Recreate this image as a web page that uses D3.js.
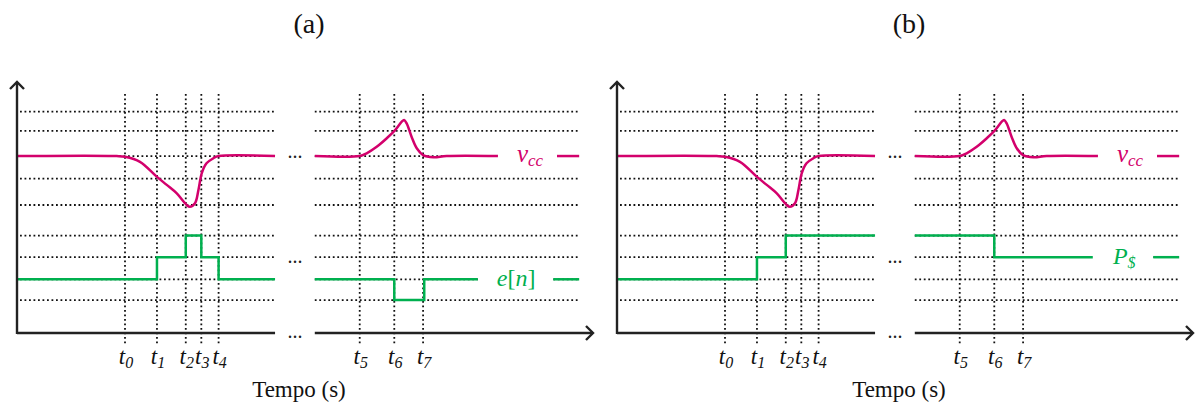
<!DOCTYPE html>
<html>
<head>
<meta charset="utf-8">
<script src="https://cdn.jsdelivr.net/npm/d3@7/dist/d3.min.js"></script>
<style>
  html, body { margin: 0; padding: 0; background: #fff; }
  svg { display: block; }
</style>
</head>
<body>
<svg id="chart" width="1197" height="405" font-family="'Liberation Serif', 'Times New Roman', Times, 'DejaVu Serif', serif"></svg>
<script>
// ---------------- data ----------------
const panelTitles = ["(a)", "(b)"];
const xAxisTitle = "Tempo (s)";
const tickNames = ["0", "1", "2", "3", "4", "5", "6", "7"];
const tickTimes = [18.75, 24.3, 29.3, 32.0, 35.0, 59.5, 65.5, 70.5];
const gridLevels = [8.82, 8.05, 7.05, 6.15, 5.10, 3.88, 3.02, 2.14, 1.31];
const segments = [[0, 44.8], [51.7, 97.6]];

const vccSeg1 = [
  [0, 7.05], [17.3, 7.05], [18.75, 7.02], [21.35, 6.82], [24.25, 6.23],
  [26.0, 5.90], [27.7, 5.57], [29.46, 5.10], [30.0, 5.03], [30.9, 5.17],
  [31.5, 5.70], [32.07, 6.36], [32.9, 6.76], [34.08, 6.96], [35.0, 7.05], [44.8, 7.05]
];
const vccSeg2 = [
  [51.7, 7.05], [59.5, 7.05], [60.7, 7.16], [62.45, 7.42], [64.2, 7.76],
  [65.6, 8.07], [66.8, 8.42], [67.2, 8.49], [67.65, 8.35], [68.5, 7.82],
  [69.4, 7.36], [70.5, 7.09], [72.3, 7.00], [74.6, 7.05], [83.5, 7.05]
];
// step series (value holds from this time on)
const enSeg1 = [[0, 2.14], [24.3, 3.02], [29.3, 3.88], [32.0, 3.02], [35.0, 2.14], [44.8, 2.14]];
const enSeg2 = [[51.7, 2.14], [65.5, 1.31], [70.7, 2.14], [80.0, 2.14]];
const psSeg1 = [[0, 2.14], [24.3, 3.02], [29.3, 3.88], [44.8, 3.88]];
const psSeg2 = [[51.7, 3.88], [65.5, 3.02], [82.6, 3.02]];

const vccLabel = { level: 7.05, lineEnd: 83.5, labelAt: 86.8, dash: [93.75, 97.6] };
const enLabel  = { level: 2.14, lineEnd: 80.0, labelAt: 83.3, dash: [93.1, 97.6] };
const psLabel  = { level: 3.02, lineEnd: 82.6, labelAt: 86.1, dash: [93.1, 97.6] };
const breakMarkLevels = [7.05, 2.85, -0.12];

// ---------------- drawing ----------------
const MAG = "#d3006c", GRN = "#00b04f", AX = "#222";
const FONT = "'Liberation Serif', 'Times New Roman', Times, 'DejaVu Serif', serif";
const svg = d3.select("#chart");
const x = d3.scaleLinear().domain([0, 100]).range([17, 593]);
const y = d3.scaleLinear().domain([0, 10]).range([333, 82]);

const smooth = d3.line().x(d => x(d[0])).y(d => y(d[1])).curve(d3.curveCatmullRom.alpha(0.5));
const step = d3.line().x(d => x(d[0])).y(d => y(d[1])).curve(d3.curveStepAfter);

function panel(idx) {
  const g = svg.append("g").attr("transform", `translate(${idx * 600},0)`).attr("font-family", FONT);
  const greenSegs = idx === 0 ? [enSeg1, enSeg2] : [psSeg1, psSeg2];
  const gl = idx === 0 ? enLabel : psLabel;

  // title
  g.append("text").attr("x", 309).attr("y", 33).attr("text-anchor", "middle")
    .attr("font-family", FONT).attr("font-size", 28).attr("fill", "#111").text(panelTitles[idx]);

  // horizontal dotted grid
  segments.forEach((s, si) => {
    g.selectAll(null).data(gridLevels).enter().append("line")
      .attr("x1", si === 0 ? x(s[0]) + 3 : x(s[0]))
      .attr("x2", x(s[1]))
      .attr("y1", d => y(d)).attr("y2", d => y(d))
      .attr("stroke", "#111").attr("stroke-width", 1.8)
      .attr("stroke-dasharray", "1.8,2.7");
  });
  // vertical dotted lines
  g.selectAll(null).data(tickTimes).enter().append("line")
    .attr("x1", d => x(d)).attr("x2", d => x(d))
    .attr("y1", y(9.52)).attr("y2", y(-0.5))
    .attr("stroke", "#111").attr("stroke-width", 1.8)
    .attr("stroke-dasharray", "1.8,2.7");

  // white masks behind labels
  [vccLabel, gl].forEach(L => {
    g.append("rect").attr("x", x(L.lineEnd)).attr("width", x(L.dash[0]) - x(L.lineEnd))
      .attr("y", y(L.level) - 5).attr("height", 10).attr("fill", "#fff");
    g.append("rect").attr("x", x(L.dash[1])).attr("width", 8)
      .attr("y", y(L.level) - 5).attr("height", 10).attr("fill", "#fff");
  });

  // vcc curves
  [vccSeg1, vccSeg2].forEach(s => {
    g.append("path").attr("d", smooth(s)).attr("fill", "none")
      .attr("stroke", MAG).attr("stroke-width", 2.5);
  });
  // green step curves
  greenSegs.forEach(s => {
    g.append("path").attr("d", step(s)).attr("fill", "none")
      .attr("stroke", GRN).attr("stroke-width", 2.5);
  });
  // label dashes
  [[vccLabel, MAG], [gl, GRN]].forEach(([L, c]) => {
    g.append("line").attr("x1", x(L.dash[0])).attr("x2", x(L.dash[1]))
      .attr("y1", y(L.level)).attr("y2", y(L.level))
      .attr("stroke", c).attr("stroke-width", 2.5);
  });

  // axes
  g.append("line").attr("x1", x(0)).attr("x2", x(0)).attr("y1", y(0) + 1).attr("y2", y(10))
    .attr("stroke", AX).attr("stroke-width", 2.4);
  g.append("path").attr("d", `M${x(0) - 7},${y(10) + 7}L${x(0)},${y(10)}L${x(0) + 7},${y(10) + 7}`)
    .attr("fill", "none").attr("stroke", AX).attr("stroke-width", 2.4);
  g.append("line").attr("x1", x(0)).attr("x2", x(segments[0][1])).attr("y1", y(0)).attr("y2", y(0))
    .attr("stroke", AX).attr("stroke-width", 2.4);
  g.append("line").attr("x1", x(segments[1][0])).attr("x2", x(100)).attr("y1", y(0)).attr("y2", y(0))
    .attr("stroke", AX).attr("stroke-width", 2.4);
  g.append("path").attr("d", `M${x(100) - 7},${y(0) - 7}L${x(100)},${y(0)}L${x(100) - 7},${y(0) + 7}`)
    .attr("fill", "none").attr("stroke", AX).attr("stroke-width", 2.4);

  // ellipses at the break
  const brk = (x(segments[0][1]) + x(segments[1][0])) / 2;
  breakMarkLevels.forEach(lv => {
    g.append("text").attr("x", brk).attr("y", y(lv) + 2).attr("text-anchor", "middle")
      .attr("font-family", FONT).attr("font-size", 20).attr("fill", "#222").text("...");
  });

  // tick labels
  tickTimes.forEach((t, i) => {
    const tx = g.append("text").attr("x", x(t) + 1).attr("y", 364)
      .attr("font-family", FONT)
      .attr("text-anchor", "middle").attr("fill", "#111").attr("font-style", "italic");
    tx.append("tspan").attr("font-size", 23).text("t");
    tx.append("tspan").attr("font-size", 16).attr("dy", 4).text(tickNames[i]);
  });

  // axis title
  g.append("text").attr("x", 299).attr("y", 397).attr("text-anchor", "middle")
    .attr("font-family", FONT).attr("font-size", 23).attr("fill", "#111").text(xAxisTitle);

  // series labels
  const vt = g.append("text").attr("x", x(vccLabel.labelAt)).attr("y", y(vccLabel.level) + 6)
    .attr("font-family", FONT).attr("fill", MAG).attr("font-style", "italic");
  vt.append("tspan").attr("font-size", 25).text("v");
  vt.append("tspan").attr("font-size", 17).attr("dy", 4).text("cc");

  const gt = g.append("text").attr("x", x(gl.labelAt)).attr("y", y(gl.level) + 7)
    .attr("font-family", FONT).attr("fill", GRN);
  if (idx === 0) {
    gt.append("tspan").attr("font-size", 24).attr("font-style", "italic").text("e");
    gt.append("tspan").attr("font-size", 24).text("[");
    gt.append("tspan").attr("font-size", 24).attr("font-style", "italic").text("n");
    gt.append("tspan").attr("font-size", 24).text("]");
  } else {
    gt.append("tspan").attr("font-size", 24).attr("font-style", "italic").text("P");
    gt.append("tspan").attr("font-size", 16).attr("font-style", "italic").attr("dy", 4).text("$");
  }
}

panel(0);
panel(1);
</script>
</body>
</html>
